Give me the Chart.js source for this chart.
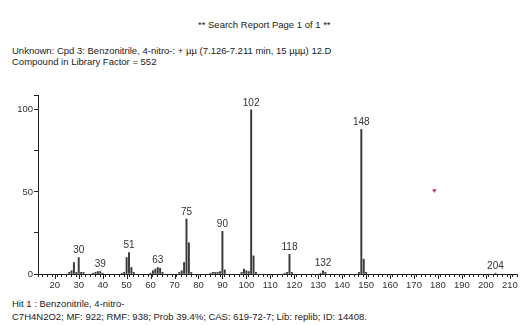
<!DOCTYPE html>
<html lang="en">
<head>
<meta charset="UTF-8">
<title>Search Report</title>
<style>
    html, body { margin: 0; padding: 0; background: #fff; }
    body { width: 521px; height: 325px; position: relative; overflow: hidden; font-family: "Liberation Sans", Arial, sans-serif; color: #222; }
    .txt { position: absolute; font-size: 9.5px; line-height: 11px; white-space: nowrap; }
    #chartBox { position: absolute; left: 0; top: 0; width: 521px; height: 325px; }
</style>
</head>
<body>
<div class="txt" style="left:198px; top:19px;">** Search Report Page 1 of 1 **</div>
<div class="txt" style="left:12px; top:45px;">Unknown: Cpd 3: Benzonitrile, 4-nitro-: + &micro;&micro; (7.126-7.211 min, 15 &micro;&micro;&micro;) 12.D<br>Compound in Library Factor = 552</div>
<div class="txt" style="left:12px; top:297px; line-height:13px;">Hit 1 : Benzonitrile, 4-nitro-<br>C7H4N2O2; MF: 922; RMF: 938; Prob 39.4%; CAS: 619-72-7; Lib: replib; ID: 14408.</div>
<div id="chartBox"><canvas id="spec"></canvas></div>

<script src="https://cdn.jsdelivr.net/npm/chart.js"></script>
<script>
// m/z values and relative abundance
const mz = [26, 27, 28, 29, 30, 31, 32, 36, 37, 38, 39, 40, 48, 49, 50, 51, 52, 53,
            60, 61, 62, 63, 64, 65, 72, 73, 74, 75, 76, 77, 85, 86, 87, 88, 89, 90, 91,
            98, 99, 100, 101, 102, 103, 104, 116, 117, 118, 119, 131, 132, 133,
            147, 148, 149, 150, 204];
const abundance = [1, 2, 7, 1, 10, 1, 1, 0.5, 1, 1.5, 1.5, 0.5, 0.5, 1, 10, 13, 4, 1,
                   0.5, 2, 3, 4, 3.5, 1, 1, 2, 7, 33.5, 19, 1, 0.5, 1, 1, 1, 1.5, 26, 2.5,
                   1, 3, 2, 1.5, 100, 11, 1, 0.5, 1, 12, 1, 0.5, 2, 1,
                   1, 88, 9, 1, 0.5];
const labelledPeaks = [30, 39, 51, 63, 75, 90, 102, 118, 132, 148, 204];
const marker = [{x: 178.5, y: 50.8}];
const xLabels = [20, 30, 40, 50, 60, 70, 80, 90, 100, 110, 120, 130, 140, 150, 160, 170, 180, 190, 200, 210];
const yLabels = [0, 50, 100];

const peakData = mz.map((m, i) => ({x: m, y: abundance[i]}));

// numbers above the labelled peaks + long major ticks on x axis
const peakLabels = {
    id: 'peakLabels',
    afterDatasetsDraw(chart) {
        const ctx = chart.ctx;
        const xs = chart.scales.x, ys = chart.scales.y;
        ctx.save();
        ctx.font = '10px "Liberation Sans", Arial, sans-serif';
        ctx.fillStyle = '#333';
        ctx.textAlign = 'center';
        ctx.textBaseline = 'bottom';
        labelledPeaks.forEach(p => {
            const i = mz.indexOf(p);
            const v = i >= 0 ? abundance[i] : 0;
            ctx.fillText(String(p), xs.getPixelForValue(p), ys.getPixelForValue(v) - 2);
        });
        ctx.strokeStyle = '#222';
        ctx.lineWidth = 1;
        xLabels.forEach(v => {
            const px = Math.round(xs.getPixelForValue(v)) + 0.5;
            ctx.beginPath();
            ctx.moveTo(px, ys.bottom);
            ctx.lineTo(px, ys.bottom + 5);
            ctx.stroke();
        });
        ctx.restore();
    }
};

new Chart(document.getElementById('spec'), {
    type: 'bar',
    data: {
        datasets: [{
            type: 'bar',
            data: peakData,
            backgroundColor: '#3a3a3a',
            barThickness: 1.3,
            borderWidth: 0
        }, {
            type: 'scatter',
            data: marker,
            pointStyle: 'triangle',
            rotation: 180,
            radius: 2.5,
            backgroundColor: '#c0304a',
            borderColor: '#c0304a',
            borderWidth: 0
        }]
    },
    options: {
        responsive: true,
        maintainAspectRatio: false,
        animation: false,
        layout: { padding: { top: 95, bottom: 29, left: 0, right: 0 } },
        plugins: { legend: { display: false }, tooltip: { enabled: false } },
        scales: {
            x: {
                type: 'linear',
                min: 13,
                max: 213,
                offset: false,
                afterFit: s => { s.height = 22; },
                afterBuildTicks: s => {
                    const t = [];
                    for (let v = 14; v <= 212; v += 2) t.push({value: v});
                    s.ticks = t;
                },
                border: { display: true, color: '#222', width: 1 },
                grid: { display: true, drawOnChartArea: false, drawTicks: true, tickLength: 3, color: '#222' },
                ticks: {
                    autoSkip: false,
                    maxRotation: 0,
                    padding: 3,
                    color: '#333',
                    font: { family: '"Liberation Sans", Arial, sans-serif', size: 9.5 },
                    callback: v => xLabels.includes(v) ? String(v) : ''
                }
            },
            y: {
                min: 0,
                max: 109,
                afterFit: s => { s.width = 38; },
                border: { display: true, color: '#222', width: 1 },
                grid: { display: true, drawOnChartArea: false, drawTicks: true, tickLength: 4, color: '#222' },
                ticks: {
                    stepSize: 25,
                    padding: 1,
                    color: '#333',
                    font: { family: '"Liberation Sans", Arial, sans-serif', size: 9.5 },
                    callback: v => yLabels.includes(v) ? String(v) : ''
                }
            }
        }
    },
    plugins: [peakLabels]
});
</script>
</body>
</html>
